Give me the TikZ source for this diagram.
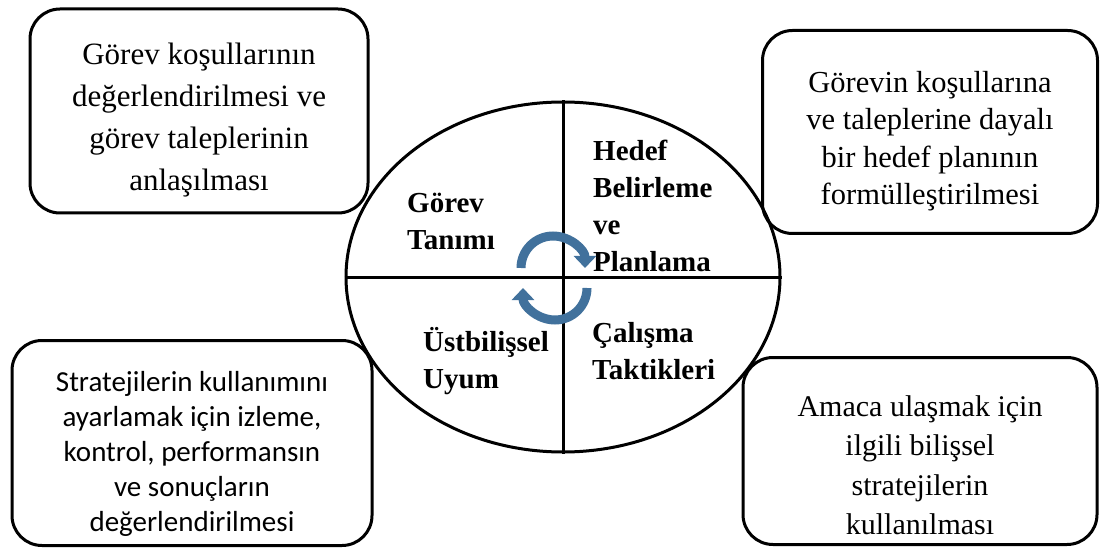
\documentclass[tikz,border=0pt]{standalone}
\usepackage{fontspec}
\setmainfont{Liberation Serif}
\newfontfamily\calibrifont{Carlito}
\usetikzlibrary{shapes.geometric, arrows.meta, positioning, calc}
\definecolor{CycleBlue}{HTML}{41719C}
\definecolor{LineBlack}{HTML}{000000}
\tikzset{
  notebox/.style={draw=LineBlack, line width=3pt, rounded corners=30pt, inner sep=0pt},
  notetext/.style={align=center, inner sep=0pt, font=\fontsize{30}{40}\selectfont},
  phaselabel/.style={anchor=west, align=left, inner sep=0pt,
                     font=\fontsize{29}{37}\selectfont\bfseries},
  cyclearrow/.style={draw=CycleBlue, line width=9pt, -{Triangle[width=22pt,length=12pt]}}
}

\begin{document}
\begin{tikzpicture}[x=1pt, y=1pt]
  \useasboundingbox (0,0) rectangle (1100,547);

  % central wheel
  \node[ellipse, draw=LineBlack, line width=3pt, minimum width=434pt, minimum height=350pt,
        inner sep=0pt] (wheel) at (563,270) {};
  \draw[line width=3pt] (wheel.north) -- (wheel.south);
  \draw[line width=3pt] (wheel.west) -- (wheel.east);

  % phase names
  \node[phaselabel] (tanim) at (407,326) {Görev\\Tanımı};
  \node[phaselabel] (hedef) at (593,341) {Hedef\\Belirleme\\ve\\Planlama};
  \node[phaselabel] (uyum) at (423,186) {Üstbilişsel\\Uyum};
  \node[phaselabel] (taktik) at (592,196) {Çalışma\\Taktikleri};

  % cycle in the middle
  \coordinate (cycup) at (553,279);
  \coordinate (cyclow) at (555,259);
  \draw[cyclearrow] ([shift={(180:32)}]cycup) arc[start angle=180, end angle=0, radius=32];
  \draw[cyclearrow] ([shift={(0:32)}]cyclow) arc[start angle=0, end angle=-180, radius=32];

  % descriptions
  \node[notebox, minimum width=338pt, minimum height=204pt] (tanimnote) at (199,436) {};
  \node[notetext, font=\fontsize{31}{42}\selectfont] (tanimtext)
    at ([yshift=-9pt]tanimnote.center)
    {Görev koşullarının\\değerlendirilmesi ve\\görev taleplerinin\\anlaşılması};

  \node[notebox, minimum width=335pt, minimum height=203pt] (hedefnote) at (930,415) {};
  \node[notetext, font=\fontsize{30.5}{37.5}\selectfont] (hedeftext)
    at ([yshift=-9pt]hedefnote.center)
    {Görevin koşullarına\\ve taleplerine dayalı\\bir hedef planının\\formülleştirilmesi};

  \node[notebox, minimum width=360pt, minimum height=205pt] (uyumnote) at (192,104) {};
  \node[notetext, font=\calibrifont\fontsize{29}{35}\selectfont] (uyumtext)
    at ([yshift=-11pt]uyumnote.center)
    {Stratejilerin kullanımını\\ayarlamak için izleme,\\kontrol, performansın\\ve sonuçların\\değerlendirilmesi};

  \node[notebox, minimum width=354pt, minimum height=187pt] (taktiknote) at (920,96) {};
  \node[notetext, font=\fontsize{30}{39.5}\selectfont] (taktiktext)
    at ([yshift=-14pt]taktiknote.center)
    {Amaca ulaşmak için\\ilgili bilişsel\\stratejilerin\\kullanılması};
\end{tikzpicture}
\end{document}
